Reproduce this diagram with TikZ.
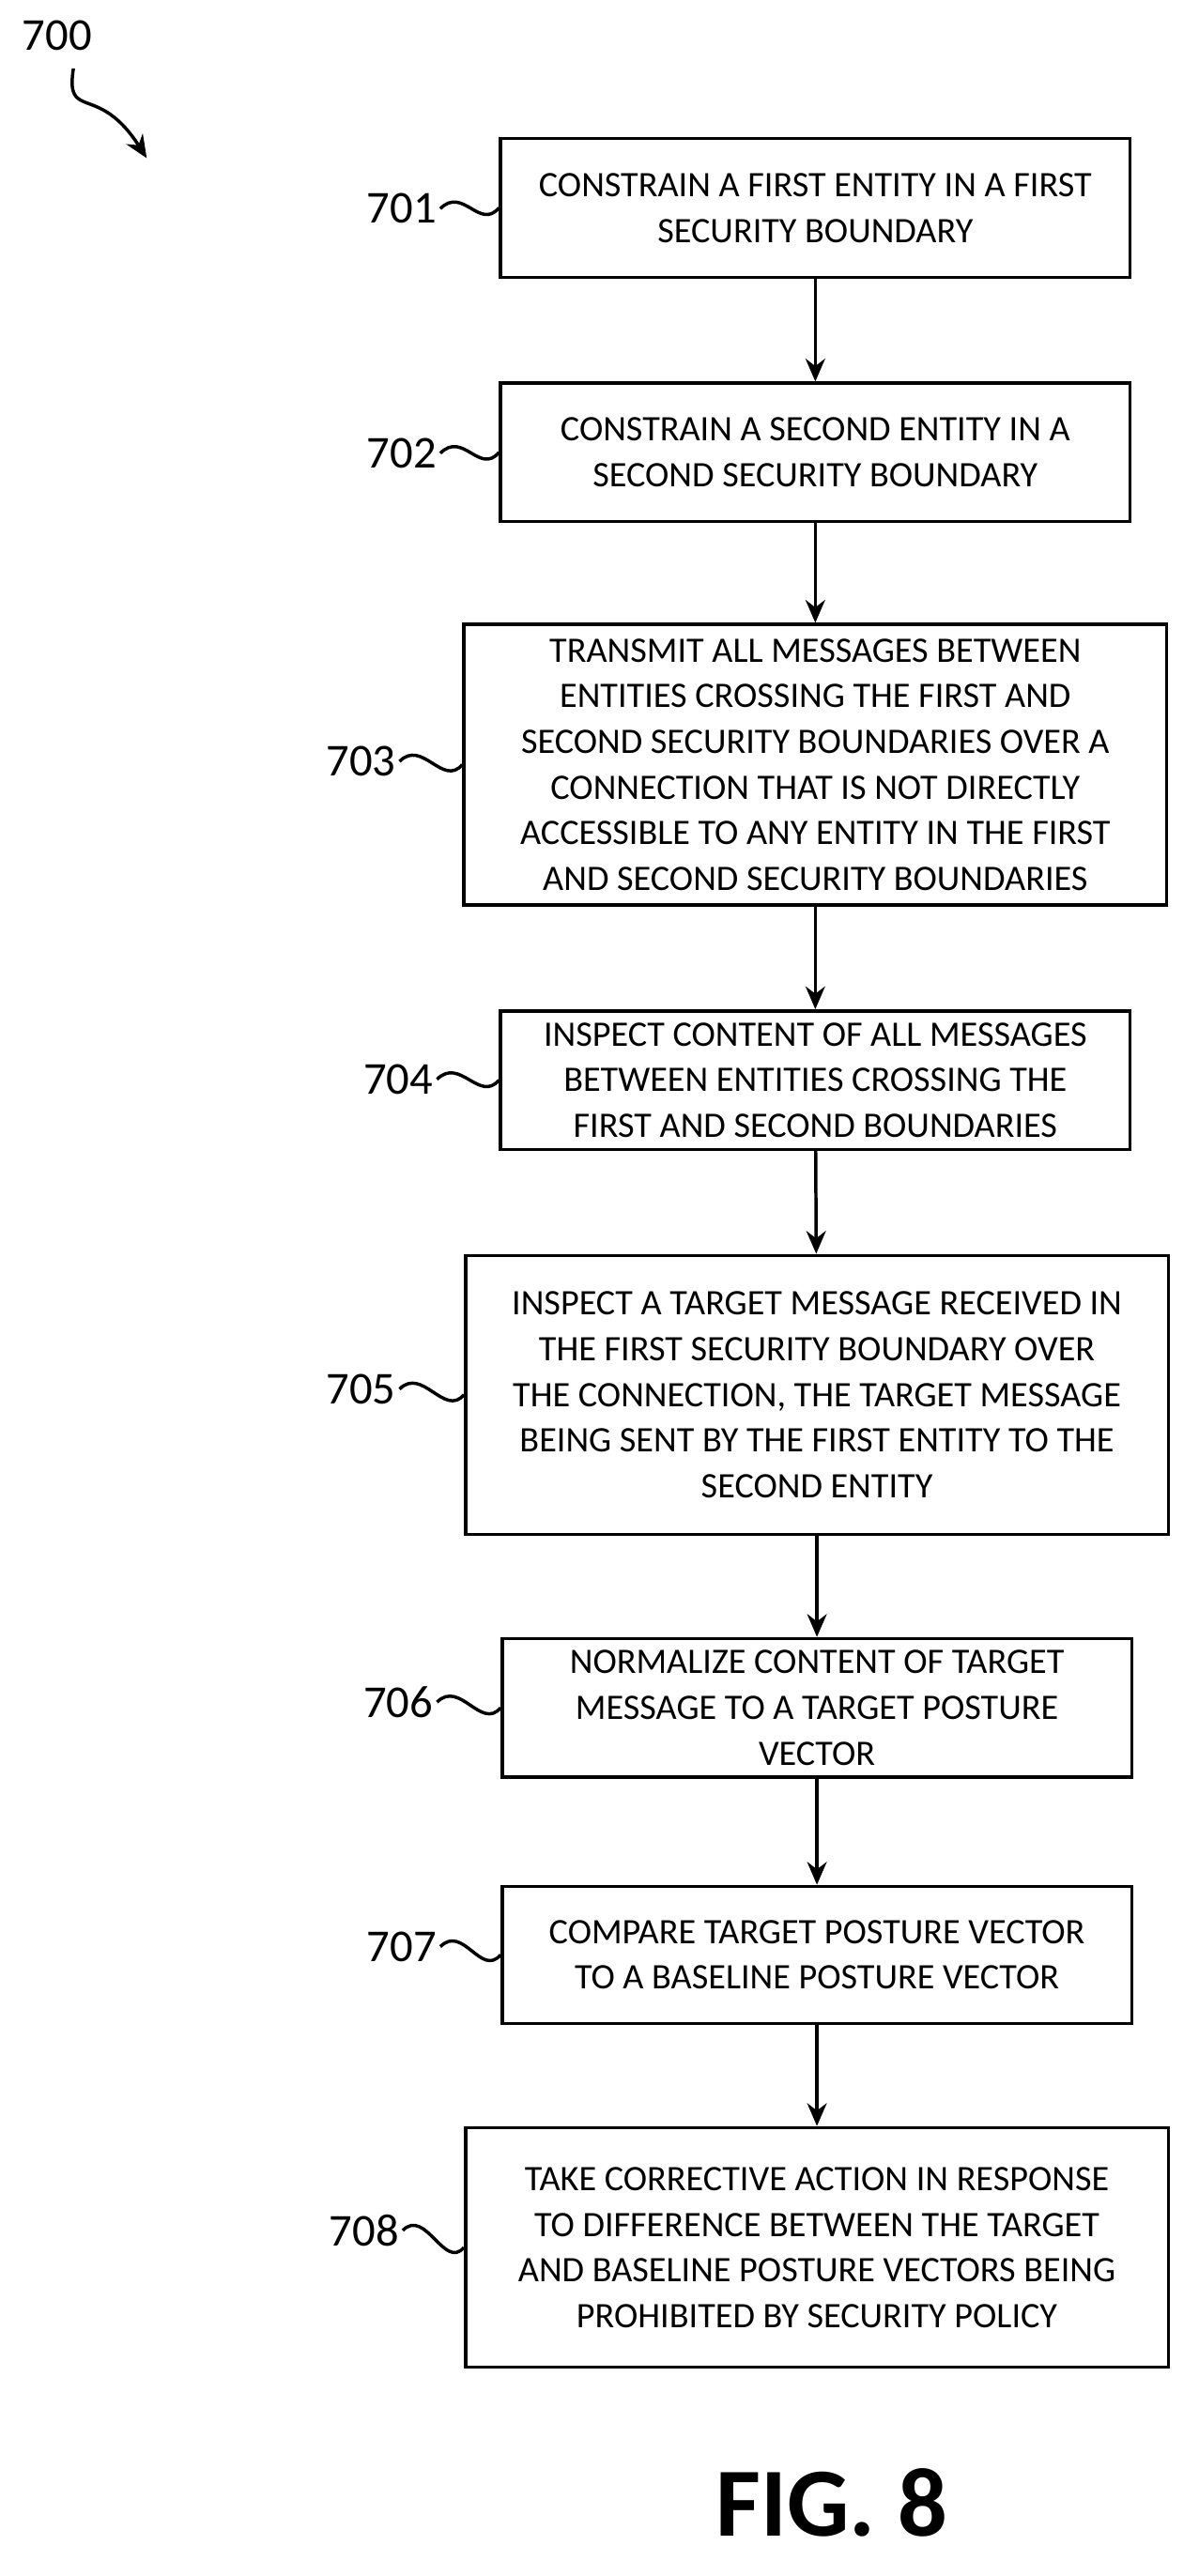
\documentclass[tikz,border=0pt]{standalone}
\usepackage{fontspec}
\setmainfont{Carlito}
\usetikzlibrary{positioning,arrows.meta}

\begin{document}
\begin{tikzpicture}[x=0.5pt,y=-0.5pt]
	\tikzset{stepbox/.style={draw,line width=1pt,align=center,inner sep=2pt,font=\fontsize{11}{14}\selectfont}}
	\tikzset{flow/.style={-{Stealth[length=7pt,width=6pt]},line width=1pt}}
	\tikzset{lbl/.style={font=\fontsize{14}{16}\selectfont,anchor=east,inner sep=1pt}}
	\tikzset{squig/.style={line width=1pt}}
	
	\useasboundingbox (0,0) rectangle (735,1580);
	
	\newcommand\drawStep[6] % {x} {y} {width} {height} {text} {name}
	{
		\node[stepbox,minimum width=#3*0.5pt,minimum height=#4*0.5pt] at (#1,#2) (#6) {#5};
	}
	
	\drawStep{500}{127.5}{386}{85}{CONSTRAIN A FIRST ENTITY IN A FIRST\\ SECURITY BOUNDARY}{s701}
	\drawStep{500}{277.5}{386}{85}{CONSTRAIN A SECOND ENTITY IN A\\ SECOND SECURITY BOUNDARY}{s702}
	\drawStep{500}{469}{431}{172}{TRANSMIT ALL MESSAGES BETWEEN\\ ENTITIES CROSSING THE FIRST AND\\ SECOND SECURITY BOUNDARIES OVER A\\ CONNECTION THAT IS NOT DIRECTLY\\ ACCESSIBLE TO ANY ENTITY IN THE FIRST\\ AND SECOND SECURITY BOUNDARIES}{s703}
	\drawStep{500}{662.5}{386}{85}{INSPECT CONTENT OF ALL MESSAGES\\ BETWEEN ENTITIES CROSSING THE\\ FIRST AND SECOND BOUNDARIES}{s704}
	\drawStep{501}{855.5}{431}{171}{INSPECT A TARGET MESSAGE RECEIVED IN\\ THE FIRST SECURITY BOUNDARY OVER\\ THE CONNECTION, THE TARGET MESSAGE\\ BEING SENT BY THE FIRST ENTITY TO THE\\ SECOND ENTITY}{s705}
	\drawStep{501}{1047.5}{386}{85}{NORMALIZE CONTENT OF TARGET\\ MESSAGE TO A TARGET POSTURE\\ VECTOR}{s706}
	\drawStep{501}{1199}{386}{84}{COMPARE TARGET POSTURE VECTOR\\ TO A BASELINE POSTURE VECTOR}{s707}
	\drawStep{501}{1378.5}{431}{147}{TAKE CORRECTIVE ACTION IN RESPONSE\\ TO DIFFERENCE BETWEEN THE TARGET\\ AND BASELINE POSTURE VECTORS BEING\\ PROHIBITED BY SECURITY POLICY}{s708}
	
	\draw[flow] (s701) -- (s702);
	\draw[flow] (s702) -- (s703);
	\draw[flow] (s703) -- (s704);
	\draw[flow] (s704) -- (s705);
	\draw[flow] (s705) -- (s706);
	\draw[flow] (s706) -- (s707);
	\draw[flow] (s707) -- (s708);
	
	\node[lbl] at (270,128) (l701) {701};
	\node[lbl] at (270,278) (l702) {702};
	\node[lbl] at (245,467) (l703) {703};
	\node[lbl] at (268,662) (l704) {704};
	\node[lbl] at (245,852) (l705) {705};
	\node[lbl] at (268,1044) (l706) {706};
	\node[lbl] at (270,1194) (l707) {707};
	\node[lbl] at (247,1368) (l708) {708};
	
	\draw[squig] (l701.east) .. controls +(14,-14) and +(-12,14) .. (s701.west);
	\draw[squig] (l702.east) .. controls +(14,-14) and +(-12,14) .. (s702.west);
	\draw[squig] (l703.east) .. controls +(14,-14) and +(-12,14) .. (s703.west);
	\draw[squig] (l704.east) .. controls +(14,-14) and +(-12,14) .. (s704.west);
	\draw[squig] (l705.east) .. controls +(14,-14) and +(-12,14) .. (s705.west);
	\draw[squig] (l706.east) .. controls +(14,-14) and +(-12,14) .. (s706.west);
	\draw[squig] (l707.east) .. controls +(14,-14) and +(-12,14) .. (s707.west);
	\draw[squig] (l708.east) .. controls +(14,-14) and +(-12,14) .. (s708.west);
	
	\node[font=\fontsize{14}{16}\selectfont,inner sep=1pt] at (35,22) (l700) {700};
	\coordinate (a700) at (90,97);
	\draw[flow] (45,42) .. controls (40,75) and (60,50) .. (a700);
	
	\node[font=\fontsize{30}{32}\selectfont\bfseries] at (510,1535) (fig) {FIG. 8};
\end{tikzpicture}
\end{document}
